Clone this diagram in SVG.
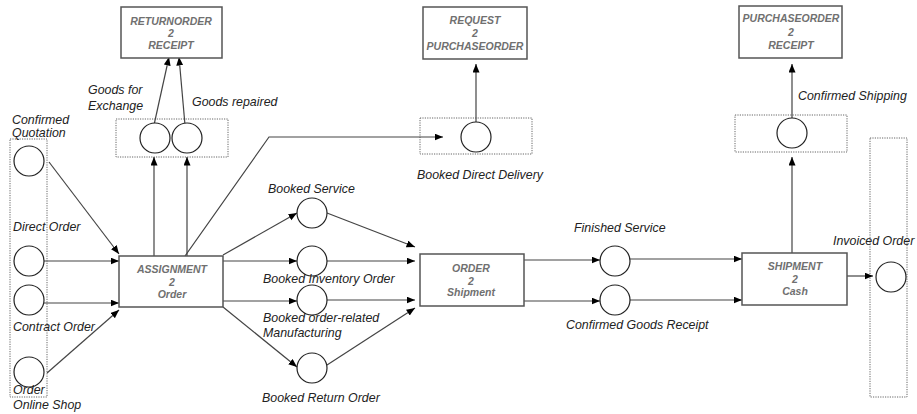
<svg xmlns="http://www.w3.org/2000/svg" width="917" height="414" viewBox="0 0 917 414">
  <defs>
    <marker id="arrow" markerUnits="userSpaceOnUse" markerWidth="10" markerHeight="8" refX="8.5" refY="3.5" orient="auto">
      <path d="M0,0 L8.5,3.5 L0,7 z" fill="#000"/>
    </marker>
    <style>
      .func { fill: #fff; stroke: #555; stroke-width: 1.5; }
      .ftxt { font-family: "Liberation Sans", Arial, sans-serif; font-size: 10.5px; font-weight: bold; font-style: italic; fill: #707070; text-anchor: middle; }
      .evt { fill: #fff; stroke: #222; stroke-width: 1.2; }
      .grp { fill: none; stroke: #666; stroke-width: 1; stroke-dasharray: 1.2 1.2; }
      .lbl { font-family: "Liberation Sans", Arial, sans-serif; font-size: 12.4px; font-style: italic; fill: #222; }
      .con { fill: none; stroke: #444; stroke-width: 1.2; marker-end: url(#arrow); }
    </style>
  </defs>

  <rect width="917" height="414" fill="#fff"/>

  <!-- dotted grouping frames -->
  <g id="groups">
    <rect class="grp" x="10" y="139" width="37" height="258"/>
    <rect class="grp" x="116" y="119" width="112" height="38"/>
    <rect class="grp" x="420" y="118" width="112" height="36"/>
    <rect class="grp" x="735" y="115" width="112" height="37"/>
    <rect class="grp" x="870" y="138" width="37" height="259"/>
  </g>

  <!-- connectors -->
  <g id="connectors">
    <line class="con" x1="49" y1="162" x2="119" y2="254"/>
    <line class="con" x1="44" y1="261" x2="119" y2="261"/>
    <line class="con" x1="44" y1="303" x2="119" y2="303"/>
    <line class="con" x1="47" y1="373" x2="119" y2="310"/>
    <line class="con" x1="154" y1="256" x2="154" y2="157"/>
    <line class="con" x1="187" y1="256" x2="187" y2="157"/>
    <line class="con" x1="154" y1="125" x2="169" y2="57"/>
    <line class="con" x1="185" y1="125" x2="179" y2="57"/>
    <polyline class="con" points="185,256 269,137 443,137"/>
    <line class="con" x1="476" y1="122" x2="476" y2="64"/>
    <line class="con" x1="223" y1="255" x2="297" y2="213"/>
    <line class="con" x1="223" y1="261" x2="297" y2="261"/>
    <line class="con" x1="223" y1="301" x2="297" y2="301"/>
    <line class="con" x1="223" y1="307" x2="297" y2="367"/>
    <line class="con" x1="327" y1="213" x2="415" y2="247"/>
    <line class="con" x1="327" y1="261" x2="415" y2="261"/>
    <line class="con" x1="327" y1="300" x2="415" y2="300"/>
    <line class="con" x1="327" y1="365" x2="415" y2="308"/>
    <line class="con" x1="524" y1="260" x2="600" y2="260"/>
    <line class="con" x1="524" y1="301" x2="600" y2="301"/>
    <line class="con" x1="630" y1="259" x2="742" y2="259"/>
    <line class="con" x1="630" y1="300" x2="742" y2="300"/>
    <line class="con" x1="792" y1="253" x2="792" y2="157"/>
    <line class="con" x1="792" y1="118" x2="792" y2="64"/>
    <line class="con" x1="847" y1="276" x2="873" y2="276"/>
  </g>

  <!-- functions -->
  <g id="fn-returnorder">
    <rect class="func" x="121" y="7" width="101" height="51"/>
    <text class="ftxt" x="171" y="25">RETURNORDER</text>
    <text class="ftxt" x="171" y="37">2</text>
    <text class="ftxt" x="171" y="49">RECEIPT</text>
  </g>
  <g id="fn-request">
    <rect class="func" x="423" y="7" width="104" height="52"/>
    <text class="ftxt" x="475" y="24">REQUEST</text>
    <text class="ftxt" x="475" y="37">2</text>
    <text class="ftxt" x="475" y="50">PURCHASEORDER</text>
  </g>
  <g id="fn-purchaseorder">
    <rect class="func" x="739" y="6" width="103" height="52"/>
    <text class="ftxt" x="791" y="22">PURCHASEORDER</text>
    <text class="ftxt" x="791" y="36">2</text>
    <text class="ftxt" x="791" y="49">RECEIPT</text>
  </g>
  <g id="fn-assignment">
    <rect class="func" x="119" y="256" width="104" height="51"/>
    <text class="ftxt" x="172" y="273">ASSIGNMENT</text>
    <text class="ftxt" x="172" y="286">2</text>
    <text class="ftxt" x="172" y="298">Order</text>
  </g>
  <g id="fn-order">
    <rect class="func" x="420" y="254" width="104" height="52"/>
    <text class="ftxt" x="471" y="272">ORDER</text>
    <text class="ftxt" x="471" y="285">2</text>
    <text class="ftxt" x="471" y="296">Shipment</text>
  </g>
  <g id="fn-shipment">
    <rect class="func" x="742" y="253" width="105" height="52"/>
    <text class="ftxt" x="795" y="270">SHIPMENT</text>
    <text class="ftxt" x="795" y="283">2</text>
    <text class="ftxt" x="795" y="295">Cash</text>
  </g>

  <!-- events -->
  <g id="ev-confirmed-quotation">
    <circle class="evt" cx="29" cy="161" r="15"/>
    <text class="lbl" x="12" y="124">Confirmed</text>
    <text class="lbl" x="12" y="137">Quotation</text>
  </g>
  <g id="ev-direct-order">
    <circle class="evt" cx="29" cy="261" r="15"/>
    <text class="lbl" x="13" y="231">Direct Order</text>
  </g>
  <g id="ev-contract-order">
    <circle class="evt" cx="29" cy="300" r="15"/>
    <text class="lbl" x="13" y="331">Contract Order</text>
  </g>
  <g id="ev-online-shop">
    <circle class="evt" cx="29" cy="372" r="15"/>
    <text class="lbl" x="13" y="394">Order</text>
    <text class="lbl" x="13" y="409">Online Shop</text>
  </g>
  <g id="ev-goods-exchange">
    <circle class="evt" cx="155" cy="138" r="15"/>
    <text class="lbl" x="88" y="94">Goods for</text>
    <text class="lbl" x="88" y="110">Exchange</text>
  </g>
  <g id="ev-goods-repaired">
    <circle class="evt" cx="187" cy="138" r="15"/>
    <text class="lbl" x="192" y="106">Goods repaired</text>
  </g>
  <g id="ev-direct-delivery">
    <circle class="evt" cx="476" cy="137" r="15"/>
    <text class="lbl" x="417" y="179">Booked Direct  Delivery</text>
  </g>
  <g id="ev-booked-service">
    <circle class="evt" cx="312" cy="213" r="15"/>
    <text class="lbl" x="268" y="193">Booked Service</text>
  </g>
  <g id="ev-booked-inventory">
    <circle class="evt" cx="312" cy="261" r="15"/>
    <text class="lbl" x="263" y="283">Booked Inventory  Order</text>
  </g>
  <g id="ev-booked-manufacturing">
    <circle class="evt" cx="312" cy="300" r="15"/>
    <text class="lbl" x="263" y="322">Booked order-related</text>
    <text class="lbl" x="263" y="337">Manufacturing</text>
  </g>
  <g id="ev-booked-return">
    <circle class="evt" cx="312" cy="368" r="15"/>
    <text class="lbl" x="262" y="402">Booked Return  Order</text>
  </g>
  <g id="ev-finished-service">
    <circle class="evt" cx="615" cy="261" r="15"/>
    <text class="lbl" x="574" y="232">Finished Service</text>
  </g>
  <g id="ev-goods-receipt">
    <circle class="evt" cx="615" cy="300" r="15"/>
    <text class="lbl" x="566" y="329">Confirmed Goods  Receipt</text>
  </g>
  <g id="ev-confirmed-shipping">
    <circle class="evt" cx="792" cy="133" r="15"/>
    <text class="lbl" x="798" y="100">Confirmed Shipping</text>
  </g>
  <g id="ev-invoiced-order">
    <circle class="evt" cx="891" cy="277" r="15"/>
    <text class="lbl" x="833" y="245">Invoiced Order</text>
  </g>
</svg>
